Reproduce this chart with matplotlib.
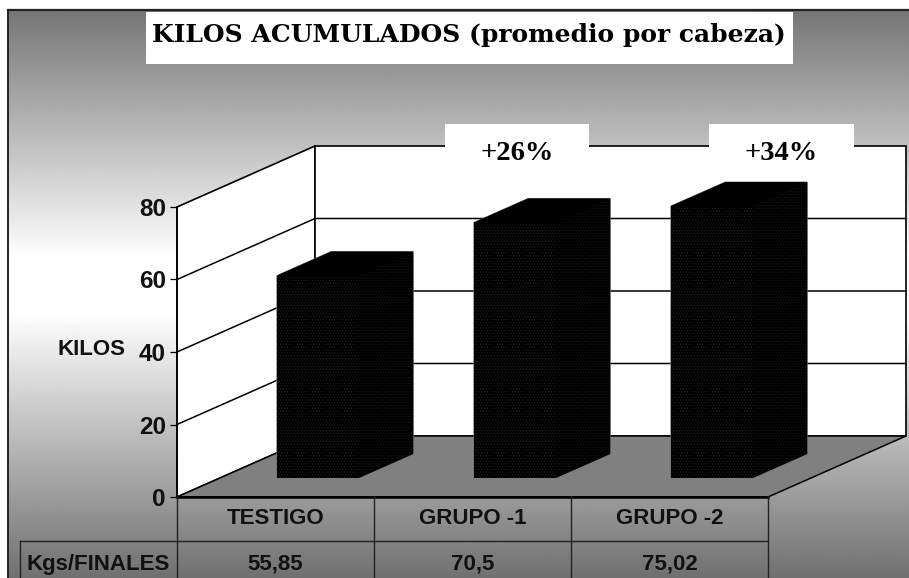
import numpy as np
import matplotlib
matplotlib.use("Agg")
import matplotlib.pyplot as plt
from matplotlib.patches import Polygon, Rectangle

grupos = ["TESTIGO", "GRUPO -1", "GRUPO -2"]
kilos = [55.85, 70.5, 75.02]
kilos_txt = ["55,85", "70,5", "75,02"]
yticks = [0, 20, 40, 60, 80]
aumentos = ["+26%", "+34%"]

W, H = 909, 578
sans = "Liberation Sans"
plt.rcParams["hatch.linewidth"] = 0.5

fig = plt.figure(figsize=(W / 100, H / 100), dpi=100, facecolor="white")

# fondo con degradado, todo en pixeles
bg = fig.add_axes([0, 0, 1, 1], zorder=0)
bg.axis("off")
filas = np.arange(10, H + 1)
gris = np.interp(filas, [10, 258, 312, 578], [117, 255, 255, 112])
bg.imshow(gris.reshape(-1, 1), cmap="gray", vmin=0, vmax=255, aspect="auto",
          extent=[8, W, H, 10])
bg.set_xlim(0, W)
bg.set_ylim(H, 0)
bg.plot([8, 8], [H, 10], color="#222222", lw=1.4)
bg.plot([8, W], [10, 10], color="#222222", lw=1.6)

# plano frontal del grafico
ax = fig.add_axes([177 / W, (H - 497) / H, 591 / W, 290 / H], zorder=1)
ax.patch.set_visible(False)
ax.set_xlim(0, 3)
ax.set_ylim(0, 80)
for s in ["top", "right", "bottom"]:
    ax.spines[s].set_visible(False)
ax.spines["left"].set_linewidth(1.1)
ax.set_xticks([])
ax.set_yticks(yticks)
ax.tick_params(axis="y", length=5, width=0.9, pad=3)
for t in ax.get_yticklabels():
    t.set_fontfamily(sans)
    t.set_fontweight("bold")
    t.set_fontsize(17.5)
    t.set_color("#111111")
ax.set_ylabel("KILOS", rotation=0, family=sans, weight="bold", fontsize=16,
              ha="right", va="center", color="#111111")
ax.yaxis.set_label_coords(-0.0863, 0.51)

# perspectiva: desplazamiento de fondo en unidades de datos
dx = 138 / 197.0
dy = 61 / 3.625


def proy(x, y, d):
    return (x + d * dx, y + d * dy)


def poly(puntos, **kw):
    p = Polygon(puntos, closed=True, clip_on=False, **kw)
    ax.add_patch(p)
    return p


# paredes y piso
poly([proy(0, 0, 0), proy(0, 0, 1), proy(0, 80, 1), proy(0, 80, 0)], fc="white", ec="black", lw=1.2, zorder=1)
poly([proy(0, 0, 1), proy(3, 0, 1), proy(3, 80, 1), proy(0, 80, 1)], fc="white", ec="black", lw=1.2, zorder=1)
poly([proy(0, 0, 0), proy(3, 0, 0), proy(3, 0, 1), proy(0, 0, 1)], fc="#808080", ec="black", lw=1.1, zorder=2)
ax.plot([0, 3], [0, 0], color="black", lw=1.8, clip_on=False, zorder=3)

for v in yticks[1:-1]:
    x0, y0 = proy(0, v, 0)
    x1, y1 = proy(0, v, 1)
    x2, y2 = proy(3, v, 1)
    ax.plot([x0, x1, x2], [y0, y1, y2], color="black", lw=1.1, clip_on=False, zorder=2)

# barras 3D
ancho = 82 / 197.0
d0 = 19 / 61.0
d1 = 43 / 61.0
for i, v in enumerate(kilos):
    a = i + 0.5 - ancho / 2 - 0.003
    b = i + 0.5 + ancho / 2 - 0.003
    silueta = [proy(a, 0, d0), proy(b, 0, d0), proy(b, 0, d1), proy(b, v, d1), proy(a, v, d1), proy(a, v, d0)]
    frente = [proy(a, 0, d0), proy(b, 0, d0), proy(b, v, d0), proy(a, v, d0)]
    lado = [proy(b, 0, d0), proy(b, 0, d1), proy(b, v, d1), proy(b, v, d0)]
    tapa = [proy(a, v, d0), proy(b, v, d0), proy(b, v, d1), proy(a, v, d1)]
    poly(silueta, fc="black", ec="#777777", lw=0.7, zorder=4)
    poly(frente, fc="black", ec="#1d1d1d", hatch="......", lw=0, zorder=4)
    poly(lado, fc="black", ec="#141414", hatch="......", lw=0, zorder=4)
    poly(tapa, fc="black", ec="black", lw=0, zorder=4)

# tabla de datos abajo
fila1 = -(541 - 497) / 3.625
fila2 = -(H + 5 - 497) / 3.625
etiq_x = -(177 - 20) / 197.0
linea = dict(color="#222222", lw=1.0, clip_on=False, zorder=3)
for x in [0, 1, 2, 3]:
    ax.plot([x, x], [0, fila2], **linea)
ax.plot([etiq_x, 3], [fila1, fila1], **linea)
ax.plot([etiq_x, etiq_x], [fila1, fila2], **linea)
for i in range(3):
    ax.text(i + 0.5, -6.0, grupos[i], ha="center", va="center", family=sans,
            weight="bold", fontsize=16, color="#111111", clip_on=False)
    ax.text(i + 0.5, -18.6, kilos_txt[i], ha="center", va="center", family=sans,
            weight="bold", fontsize=16, color="#111111", clip_on=False)
ax.text(etiq_x / 2, -18.6, "Kgs/FINALES", ha="center", va="center", family=sans,
        weight="bold", fontsize=16, color="#111111", clip_on=False)

# titulo y recuadros, encima de todo
top = fig.add_axes([0, 0, 1, 1], zorder=2)
top.patch.set_visible(False)
top.set_xlim(0, W)
top.set_ylim(H, 0)
top.axis("off")
top.add_patch(Rectangle((146, 12), 647, 52, fc="white", ec="none"))
top.text(469, 35, "KILOS ACUMULADOS (promedio por cabeza)", ha="center", va="center",
         family="DejaVu Serif", weight="bold", fontsize=18, color="black")
top.add_patch(Rectangle((445, 124), 144, 46, fc="white", ec="none"))
top.add_patch(Rectangle((709, 124), 145, 46, fc="white", ec="none"))
top.text(517, 153, aumentos[0], ha="center", va="center", family="Liberation Serif",
         weight="bold", fontsize=20.5, color="black")
top.text(781, 153, aumentos[1], ha="center", va="center", family="Liberation Serif",
         weight="bold", fontsize=20.5, color="black")

fig.savefig("out.png", dpi=100)
